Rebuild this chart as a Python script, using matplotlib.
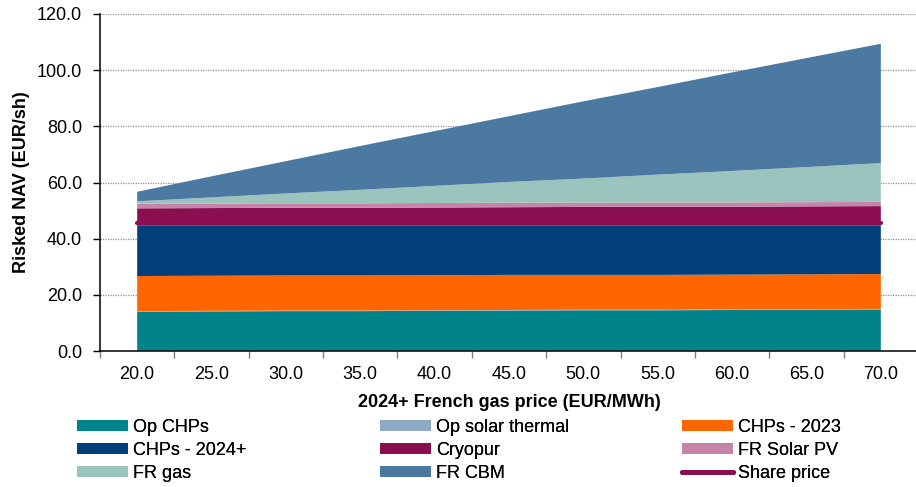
import matplotlib
matplotlib.use("Agg")
import matplotlib.pyplot as plt
from matplotlib.patches import Patch
from matplotlib.lines import Line2D
import numpy as np

plt.rcParams['font.family'] = ['Liberation Sans', 'DejaVu Sans']
plt.rcParams['font.size'] = 13

# 2024+ French gas price scenarios (EUR/MWh)
gas_price = [20.0, 25.0, 30.0, 35.0, 40.0, 45.0, 50.0, 55.0, 60.0, 65.0, 70.0]

# Risked NAV contribution by asset (EUR/sh)
op_chps = [14.0, 14.1, 14.2, 14.2, 14.3, 14.4, 14.5, 14.5, 14.6, 14.7, 14.8]
op_solar_thermal = [0.2, 0.2, 0.2, 0.2, 0.2, 0.2, 0.2, 0.2, 0.2, 0.2, 0.2]
chps_2023 = [12.5, 12.5, 12.5, 12.5, 12.5, 12.5, 12.4, 12.4, 12.4, 12.4, 12.4]
chps_2024 = [17.9, 17.8, 17.7, 17.7, 17.6, 17.5, 17.5, 17.5, 17.4, 17.3, 17.2]
cryopur = [6.2, 6.3, 6.4, 6.4, 6.5, 6.6, 6.7, 6.8, 6.8, 6.9, 7.0]
fr_solar_pv = [1.6, 1.6, 1.6, 1.6, 1.6, 1.6, 1.5, 1.5, 1.5, 1.5, 1.5]
fr_gas = [0.9, 2.2, 3.5, 4.8, 6.1, 7.4, 8.6, 9.9, 11.2, 12.5, 13.8]
fr_cbm = [3.4, 7.5, 11.5, 15.6, 19.5, 23.4, 27.5, 31.2, 35.1, 38.8, 42.5]
share_price = [45.7, 45.7, 45.7, 45.7, 45.7, 45.7, 45.7, 45.7, 45.7, 45.7, 45.7]

series_names = ["Op CHPs", "Op solar thermal", "CHPs - 2023", "CHPs - 2024+",
                "Cryopur", "FR Solar PV", "FR gas", "FR CBM"]
series_values = [op_chps, op_solar_thermal, chps_2023, chps_2024,
                 cryopur, fr_solar_pv, fr_gas, fr_cbm]
series_colors = ["#00838A", "#8EA9C4", "#FF6600", "#003F7A",
                 "#8B0F50", "#C585A9", "#9BC4BF", "#4B79A1"]
share_color = "#8B0F50"

fig = plt.figure(figsize=(9.16, 4.87), dpi=100)
ax = fig.add_axes([100 / 916, 1 - 351 / 487, 818 / 916, (351 - 14) / 487])

x = np.arange(len(gas_price))
ax.stackplot(x, *series_values, colors=series_colors, linewidth=0, zorder=2)
ax.plot(x, share_price, color=share_color, lw=3, solid_capstyle='round', zorder=3)

ax.set_xlim(-0.5, len(gas_price) - 0.5)
ax.set_ylim(0, 120)
ax.set_yticks(np.arange(0, 121, 20))
ax.yaxis.set_major_formatter(matplotlib.ticker.FormatStrFormatter('%.1f'))
ax.set_xticks(x)
ax.set_xticklabels([f"{v:.1f}" for v in gas_price])
ax.set_xticks(np.arange(-0.5, len(gas_price) - 0.4, 1.0), minor=True)
ax.tick_params(axis='x', which='major', length=0, pad=11)
ax.tick_params(axis='x', which='minor', length=5, width=1, color='#808080')
ax.tick_params(axis='y', which='major', length=5, width=1, pad=8)

ax.yaxis.grid(True, linestyle=(0, (1, 1)), color='#909090', lw=0.9)
ax.set_axisbelow(True)
for side in ('top', 'right'):
    ax.spines[side].set_visible(False)
for side in ('left', 'bottom'):
    ax.spines[side].set_linewidth(1.1)
    ax.spines[side].set_color('black')

ax.set_ylabel("Risked NAV (EUR/sh)", fontweight='bold', labelpad=5)
ax.set_xlabel("2024+ French gas price (EUR/MWh)", fontweight='bold', labelpad=8)

# Legend laid out in three columns, filled row by row
handles = [Patch(facecolor=c, edgecolor='none') for c in series_colors]
handles.append(Line2D([], [], color=share_color, lw=3.6, solid_capstyle='round'))
labels = series_names + ["Share price"]
col_x = [77 / 916, 380 / 916, 682 / 916]
for col in range(3):
    idx = list(range(col, len(labels), 3))
    leg = fig.legend([handles[i] for i in idx], [labels[i] for i in idx],
                     loc='upper left', bbox_to_anchor=(col_x[col], 1 - 419 / 487),
                     frameon=False, borderpad=0, borderaxespad=0,
                     handlelength=2.8, handleheight=0.55, handletextpad=0.3,
                     labelspacing=0.34, fontsize=13)
    fig.add_artist(leg)

fig.savefig("out.png", dpi=100)
